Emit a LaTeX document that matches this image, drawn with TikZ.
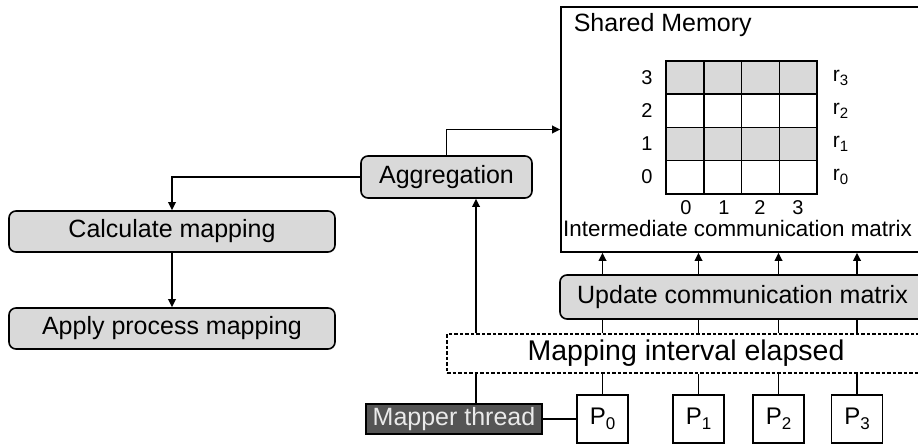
\documentclass[tikz,border=0pt]{standalone}
\usepackage{fontspec}
\setmainfont{Liberation Sans}
\usetikzlibrary{arrows.meta}
\definecolor{boxgray}{HTML}{D9D9D9}
\definecolor{threadgray}{HTML}{555555}
\definecolor{threadtext}{HTML}{EAEAEA}
\newcommand\fsz[1]{\fontsize{#1}{#1}\selectfont}
\newcommand\lowsub[1]{\raisebox{-5pt}{\fsz{17}#1}}
\newcommand\rsub[1]{\raisebox{-4.5pt}{\fsz{15}#1}}

\begin{document}
\begin{tikzpicture}[x=1pt,y=-1pt,
  line width=1.6pt,
  >={Triangle[length=8pt,width=7.5pt]},
  stepbox/.style={draw, rounded corners=7pt, fill=boxgray, inner sep=0pt,
    font=\fsz{25}},
  plainbox/.style={draw, fill=white, inner sep=0pt},
  procbox/.style={draw, fill=white, inner sep=0pt, minimum width=51pt,
    minimum height=48pt, font=\fsz{24}},
  dashbox/.style={draw, dash pattern=on 3.5pt off 2pt, line width=1.4pt,
    fill=white, inner sep=0pt, font=\fsz{28.5}},
  threadbox/.style={draw, fill=threadgray, text=threadtext, inner sep=0pt,
    font=\fsz{25}},
  lbl/.style={inner sep=0pt, font=\fsz{20}},
  link/.style={line width=1.8pt}
]
\clip (0,0) rectangle (918,446);

% shared memory with the intermediate matrix
\node[plainbox, minimum width=364pt, minimum height=245pt] (shm) at (743,129.5) {};
\node[inner sep=0pt, anchor=west, font=\fsz{25}] (shmtitle) at (573,25) {Shared Memory};

\fill[boxgray] (666,61) rectangle (817,94.25);
\fill[boxgray] (666,127.5) rectangle (817,160.75);
\draw[line width=1.5pt] (666,61) rectangle (817,194);
\foreach \k in {1,2,3} {
  \draw[line width=1.5pt] (666+37.75*\k,61) -- (666+37.75*\k,194);
  \draw[line width=1.5pt] (666,61+33.25*\k) -- (817,61+33.25*\k);
}
\foreach \k/\yy in {3/78,2/111,1/144,0/177} {
  \node[lbl] (row\k) at (647,\yy) {\k};
  \node[lbl, anchor=west, font=\fsz{21}] (rr\k) at (832,\yy) {r\rsub{\k}};
}
\foreach \k/\xx in {0/686,1/724,2/760,3/798} {
  \node[lbl] (col\k) at (\xx,208) {\k};
}
\node[inner sep=0pt, font=\fsz{22.4}] (mtxcap) at (737.5,228.5) {Intermediate communication matrix};

% process steps
\node[stepbox, minimum width=171pt, minimum height=42pt] (agg) at (446.5,177) {Aggregation};
\node[stepbox, minimum width=326pt, minimum height=41pt] (calc) at (172,231.5) {Calculate mapping};
\node[stepbox, minimum width=326pt, minimum height=41pt] (apply) at (172,328.5) {Apply process mapping};
\node[stepbox, minimum width=365pt, minimum height=44pt] (update) at (742.5,297) {Update communication matrix};
\node[dashbox, minimum width=478pt, minimum height=39pt] (interval) at (686,353.5) {Mapping interval elapsed};

% mapper thread and processes
\node[threadbox, minimum width=176pt, minimum height=30pt] (mapper) at (454,419) {Mapper thread};
\node[procbox] (p0) at (602.5,419) {P\lowsub{0}};
\node[procbox] (p1) at (698.5,419) {P\lowsub{1}};
\node[procbox] (p2) at (778.5,419) {P\lowsub{2}};
\node[procbox] (p3) at (857,419) {P\lowsub{3}};

\coordinate (agglink) at (476,0);

% connectors
\draw[link,->] (agg.north) |- (shm.west);
\draw[link,->] (agg.west) -| (calc.north);
\draw[link,->] (calc.south) -- (apply.north);
\draw[link] (mapper.north -| agglink) -- (interval.south -| agglink);
\draw[link,->] (interval.north -| agglink) -- (agg.south -| agglink);
\draw[link] (mapper.east) -- (p0.west);
\foreach \i in {0,1,2,3} {
  \draw[link] (p\i.north) -- (interval.south -| p\i);
  \draw[link] (interval.north -| p\i) -- (update.south -| p\i);
  \draw[link,->] (update.north -| p\i) -- (shm.south -| p\i);
}
\end{tikzpicture}
\end{document}
